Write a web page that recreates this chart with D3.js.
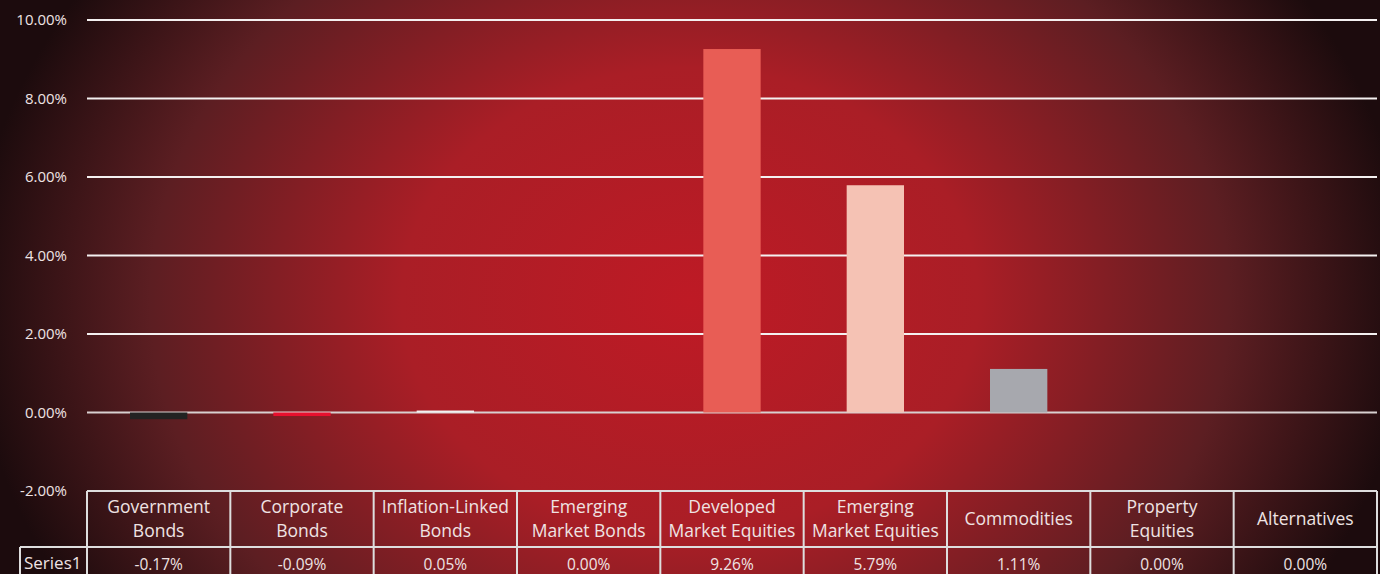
<!DOCTYPE html>
<html><head><meta charset="utf-8">
<script src="https://cdn.jsdelivr.net/npm/d3@7"></script>
<style>html,body{margin:0;padding:0;background:#1a0a0c;}svg{display:block;}</style>
</head><body><svg id="c" width="1380" height="574"></svg>
<script>
const categories = [["Government","Bonds"],["Corporate","Bonds"],["Inflation-Linked","Bonds"],["Emerging","Market Bonds"],["Developed","Market Equities"],["Emerging","Market Equities"],["Commodities"],["Property","Equities"],["Alternatives"]];
const values = [-0.17, -0.09, 0.05, 0.00, 9.26, 5.79, 1.11, 0.00, 0.00];
const valueLabels = ["-0.17%","-0.09%","0.05%","0.00%","9.26%","5.79%","1.11%","0.00%","0.00%"];
const barColors = ["#222222","#e8102e","#f2f2f2","#f2f2f2","#e85d55","#f5c2b4","#a7a8ae","#f2f2f2","#f2f2f2"];
const yTicks = [-2,0,2,4,6,8,10];
const yTickLabels = ["-2.00%","0.00%","2.00%","4.00%","6.00%","8.00%","10.00%"];
const seriesName = "Series1";

const svg = d3.select("#c");
const W = 1380, H = 574;
const defs = svg.append("defs");
const g = defs.append("radialGradient").attr("id","bg").attr("gradientUnits","userSpaceOnUse")
  .attr("cx",0).attr("cy",0).attr("r",1)
  .attr("gradientTransform","translate(690,300) scale(720,580)");
g.append("stop").attr("offset","0").attr("stop-color","#be1a25");
g.append("stop").attr("offset","0.4").attr("stop-color","#aa1e26");
g.append("stop").attr("offset","0.75").attr("stop-color","#5c1e22");
g.append("stop").attr("offset","1").attr("stop-color","#1c0b0d");
svg.append("rect").attr("width",W).attr("height",H).attr("fill","url(#bg)");

const left = 87, right = 1377;
const x = d3.scaleBand().domain(d3.range(categories.length)).range([left,right]).paddingInner(0.6).paddingOuter(0.3);
const xc = d3.scaleBand().domain(d3.range(categories.length)).range([left,right]);
const y = d3.scaleLinear().domain([-2,10]).range([491,20]);
const font = "'Open Sans', 'DejaVu Sans', sans-serif";
const txt = "#efe3e3";

svg.append("g").selectAll("line").data(yTicks).join("line")
  .attr("x1",left).attr("x2",right).attr("y1",d=>y(d)).attr("y2",d=>y(d))
  .attr("stroke",d=>d===0?"#d8d0d0":"#f4f0f0").attr("stroke-width",2);
svg.append("g").selectAll("text").data(yTicks).join("text")
  .attr("x",67).attr("y",d=>y(d)).attr("dy","0.35em").attr("text-anchor","end")
  .attr("fill",txt).attr("font-family",font).attr("font-size",15)
  .text((d,i)=>yTickLabels[i]);

svg.append("g").selectAll("rect").data(values).join("rect")
  .attr("x",(d,i)=>x(i)).attr("width",x.bandwidth())
  .attr("y",d=>d>=0?y(d):y(0)).attr("height",d=>Math.abs(y(d)-y(0)))
  .attr("fill",(d,i)=>barColors[i]);

const tTop = 491, tMid = 547, tBot = 580, sLeft = 20;
const tg = svg.append("g").attr("stroke","#dedede").attr("stroke-width",2).attr("fill","none");
tg.append("line").attr("x1",left).attr("x2",right).attr("y1",tTop).attr("y2",tTop);
tg.append("line").attr("x1",sLeft).attr("x2",right).attr("y1",tMid).attr("y2",tMid);
tg.append("line").attr("x1",sLeft).attr("x2",sLeft).attr("y1",tMid).attr("y2",tBot);
tg.selectAll("line.v").data(d3.range(categories.length+1)).join("line").attr("class","v")
  .attr("x1",i=>left+i*xc.bandwidth()).attr("x2",i=>left+i*xc.bandwidth())
  .attr("y1",tTop).attr("y2",tBot);

const hdr = svg.append("g").selectAll("text").data(categories).join("text")
  .attr("text-anchor","middle").attr("fill",txt).attr("font-family",font).attr("font-size",17.5)
  .attr("x",(d,i)=>xc(i)+xc.bandwidth()/2);
hdr.each(function(d){
  const t = d3.select(this);
  if(d.length===1){
    t.append("tspan").attr("x",t.attr("x")).attr("y",(tTop+tMid)/2).attr("dy","0.35em").text(d[0]);
  } else {
    t.append("tspan").attr("x",t.attr("x")).attr("y",507).attr("dy","0.35em").text(d[0]);
    t.append("tspan").attr("x",t.attr("x")).attr("y",531).attr("dy","0.35em").text(d[1]);
  }
});
svg.append("g").selectAll("text").data(valueLabels).join("text")
  .attr("text-anchor","middle").attr("fill",txt).attr("font-family",font).attr("font-size",15.5)
  .attr("x",(d,i)=>xc(i)+xc.bandwidth()/2).attr("y",565).attr("dy","0.35em").text(d=>d);
svg.append("text").attr("x",24).attr("y",563).attr("dy","0.35em").attr("fill",txt)
  .attr("font-family",font).attr("font-size",17).text(seriesName);
</script></body></html>
